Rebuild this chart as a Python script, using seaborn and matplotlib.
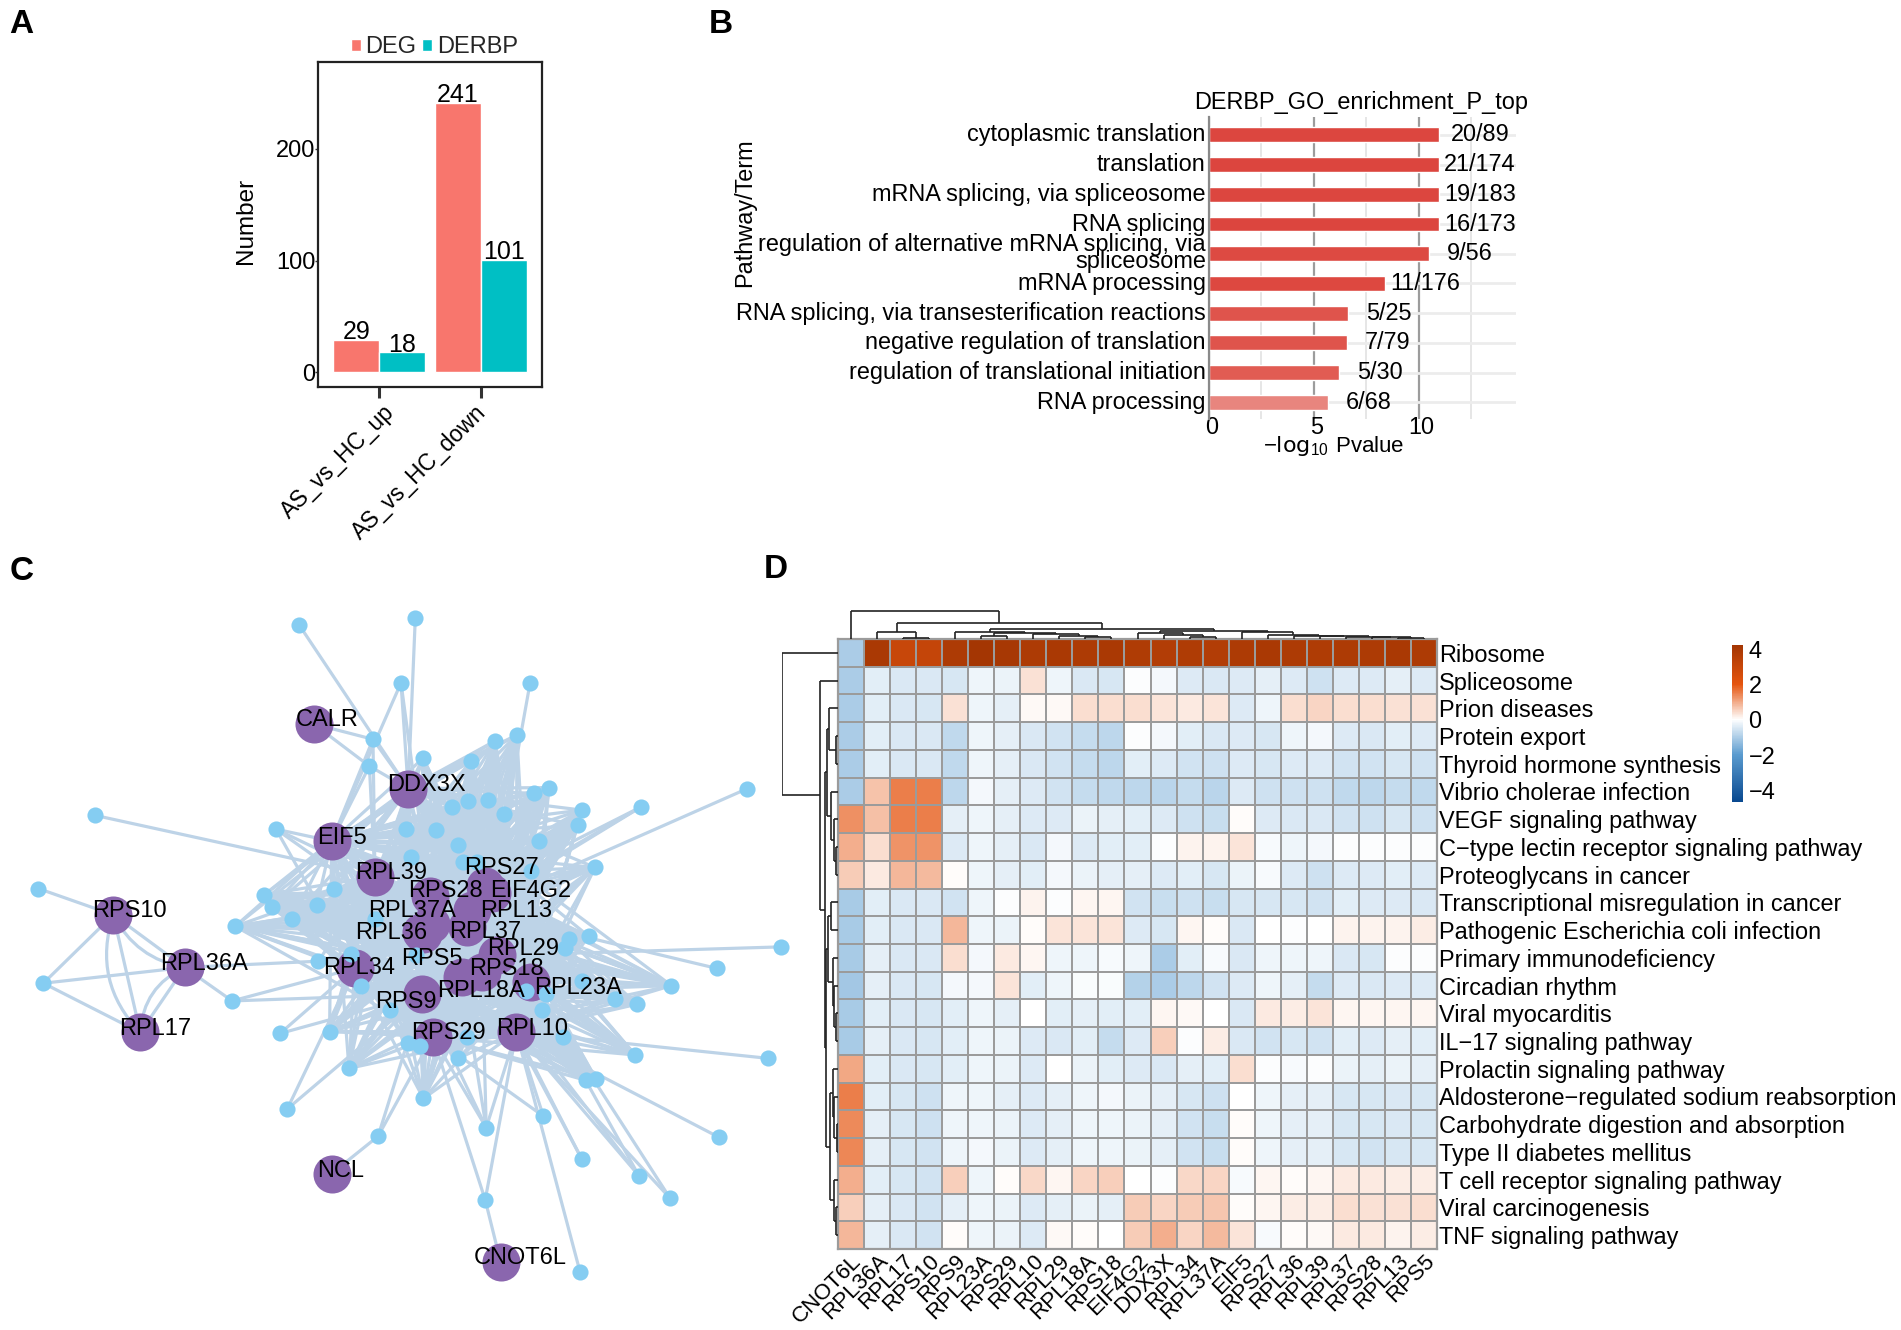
import numpy as np
import pandas as pd
import matplotlib
matplotlib.use("Agg")
import matplotlib.pyplot as plt
import seaborn as sns
from matplotlib.collections import LineCollection
from matplotlib.colors import LinearSegmentedColormap
from matplotlib.patches import FancyArrowPatch
from matplotlib.transforms import ScaledTranslation

# panel A
groups = ["AS_vs_HC_up", "AS_vs_HC_down"]
deg_counts = [29, 241]
derbp_counts = [18, 101]

# panel B
go_terms = ["cytoplasmic translation", "translation", "mRNA splicing, via spliceosome", "RNA splicing",
            "regulation of alternative mRNA splicing, via\nspliceosome", "mRNA processing",
            "RNA splicing, via transesterification reactions", "negative regulation of translation",
            "regulation of translational initiation", "RNA processing"]
go_logp = [10.99, 10.99, 10.99, 10.99, 10.49, 8.41, 6.66, 6.58, 6.22, 5.70]
go_counts = ["20/89", "21/174", "19/183", "16/173", "9/56", "11/176", "5/25", "7/79", "5/30", "6/68"]
go_colors = ["#dc463f", "#dc453e", "#dc463f", "#dc453e", "#dd4a42", "#dd4840", "#df544c", "#df544c", "#e15c53", "#e8857e"]

# panel C, layout positions
hub_names = ["CALR", "DDX3X", "EIF5", "RPL39", "RPS28", "EIF4G2", "RPS27", "RPL37A", "RPL13", "RPL36", "RPL37",
             "RPS5", "RPL29", "RPS18", "RPL18A", "RPL23A", "RPL34", "RPS9", "RPS29", "RPL10", "RPS10", "RPL36A",
             "RPL17", "NCL", "CNOT6L"]
hub_x = [615, 800, 650, 735, 842, 965, 950, 845, 925, 825, 915, 830, 975, 945, 905, 1040, 695, 828, 848, 1012, 222, 362, 275, 650, 981]
hub_y = [301, 436, 546, 620, 660, 655, 640, 720, 690, 735, 725, 740, 785, 820, 830, 840, 812, 866, 955, 945, 700, 810, 946, 1241, 1425]
label_x = [641, 835, 670, 766, 874, 1040, 982, 808, 1012, 767, 950, 847, 1025, 992, 942, 1133, 704, 795, 878, 1043, 254, 400, 305, 668, 1020]
label_y = [293, 428, 540, 613, 651, 650, 603, 692, 692, 738, 736, 792, 771, 813, 860, 852, 811, 882, 947, 938, 692, 803, 938, 1236, 1418]
core_hubs = ["DDX3X", "EIF5", "RPL39", "RPS28", "EIF4G2", "RPS27", "RPL37A", "RPL13", "RPL36", "RPL37", "RPS5",
             "RPL29", "RPS18", "RPL18A", "RPL23A", "RPL34", "RPS9", "RPS29", "RPL10"]

core_x = [1013, 971, 829, 924, 1076, 1047, 885, 917, 957, 987, 1140, 1132, 796, 854, 898, 1056, 805, 908, 935, 1040,
          1166, 655, 518, 533, 621, 573, 461, 735, 1115, 1108, 1154, 815, 688, 707, 1141, 1030, 1070, 1316, 1206,
          1248, 1062, 765, 646, 915, 800, 824, 1103, 898, 684, 1245, 1148, 1168, 830]
core_y = [324, 336, 373, 378, 434, 446, 474, 462, 460, 490, 481, 513, 520, 523, 555, 546, 580, 590, 590, 608,
          601, 647, 658, 684, 679, 708, 724, 708, 750, 770, 745, 785, 782, 849, 838, 860, 865, 848, 875,
          887, 900, 900, 944, 955, 968, 975, 955, 1000, 1021, 993, 1046, 1043, 1084]

leaf_x = [587, 814, 786, 1039, 731, 724, 1465, 1257, 186, 541, 1531, 1405, 75, 85, 455, 549, 1505, 563, 1065, 953,
          741, 1409, 1140, 1252, 951, 1313, 1137, 624]
leaf_y = [95, 79, 215, 215, 333, 389, 436, 474, 492, 521, 767, 812, 645, 843, 880, 948, 1000, 1106, 1121, 1145,
          1163, 1165, 1210, 1245, 1296, 1292, 1447, 797]
leaf_links = ["DDX3X", "DDX3X", "DDX3X EIF5 RPS28", "EIF4G2", "CALR DDX3X RPL39 EIF5", "CALR EIF5 DDX3X RPL39",
              "RPL13", "RPL13 EIF4G2 RPS27", "RPL39", "EIF5 RPL34 RPL39 RPL36", "RPL29", "RPL13", "RPS10",
              "RPS10 RPL36A RPL17", "RPL36A RPL34 RPS9", "RPL34 RPS9", "RPL10", "RPL34 RPS9", "RPL10 RPS29",
              "RPS29 RPS9 RPL10 RPL18A RPS18", "NCL RPS29 RPS9", "RPL10", "RPL10 RPS18", "RPL10 RPL23A RPS18",
              "CNOT6L RPS29 RPL10", "RPL10 RPL23A", "RPL10", "RPL36A RPL34 RPL36 RPL39 RPL37"]
hub_edges = [("RPS10", "RPL36A", 0.0), ("RPS10", "RPL36A", 0.25), ("RPS10", "RPL17", 0.0), ("RPS10", "RPL17", 0.3),
             ("RPL36A", "RPL17", 0.0), ("RPL36A", "RPL17", 0.3)]

# panel D
pathways = ["Ribosome", "Spliceosome", "Prion diseases", "Protein export", "Thyroid hormone synthesis",
            "Vibrio cholerae infection", "VEGF signaling pathway", "C\u2212type lectin receptor signaling pathway",
            "Proteoglycans in cancer", "Transcriptional misregulation in cancer",
            "Pathogenic Escherichia coli infection", "Primary immunodeficiency", "Circadian rhythm",
            "Viral myocarditis", "IL\u221217 signaling pathway", "Prolactin signaling pathway",
            "Aldosterone\u2212regulated sodium reabsorption", "Carbohydrate digestion and absorption",
            "Type II diabetes mellitus", "T cell receptor signaling pathway", "Viral carcinogenesis",
            "TNF signaling pathway"]
rbp_names = ["CNOT6L", "RPL36A", "RPL17", "RPS10", "RPS9", "RPL23A", "RPS29", "RPL10", "RPL29", "RPL18A", "RPS18",
             "EIF4G2", "DDX3X", "RPL34", "RPL37A", "EIF5", "RPS27", "RPL36", "RPL39", "RPL37", "RPS28", "RPL13", "RPS5"]
expr = [
    [-1.0, 4.0, 3.0, 3.1, 3.9, 4.2, 4.1, 3.9, 4.0, 3.9, 4.0, 3.8, 3.7, 3.8, 3.7, 3.9, 4.0, 3.9, 3.8, 3.9, 3.9, 4.0, 3.9],
    [-1.0, -0.35, -0.45, -0.45, -0.5, -0.2, -0.25, 0.35, -0.2, -0.45, -0.5, -0.05, -0.15, -0.4, -0.45, -0.4, -0.3, -0.4, -0.6, -0.4, -0.4, -0.3, -0.4],
    [-1.0, -0.35, -0.45, -0.5, 0.35, -0.2, -0.3, 0.08, 0.08, 0.4, 0.4, 0.4, 0.3, 0.25, 0.3, -0.4, -0.2, 0.4, 0.5, 0.4, 0.4, 0.35, 0.35],
    [-1.0, -0.35, -0.45, -0.45, -0.75, -0.2, -0.3, -0.45, -0.55, -0.7, -0.8, -0.05, -0.15, -0.35, -0.45, -0.4, -0.5, -0.2, -0.15, -0.4, -0.45, -0.35, -0.4],
    [-1.0, -0.35, -0.45, -0.45, -0.75, -0.2, -0.3, -0.45, -0.55, -0.7, -0.8, -0.35, -0.4, -0.55, -0.6, -0.4, -0.5, -0.4, -0.4, -0.55, -0.55, -0.5, -0.55],
    [-1.0, 0.7, 1.5, 1.5, -0.8, -0.15, -0.3, -0.4, -0.55, -0.7, -0.75, -0.8, -0.85, -0.7, -0.85, -0.4, -0.6, -0.6, -0.6, -0.75, -0.8, -0.7, -0.75],
    [1.3, 0.75, 1.5, 1.5, -0.3, -0.2, -0.3, -0.4, -0.4, -0.25, -0.3, -0.35, -0.4, -0.6, -0.65, 0.02, -0.4, -0.45, -0.45, -0.55, -0.6, -0.5, -0.6],
    [0.95, 0.4, 1.25, 1.25, -0.4, -0.2, -0.3, -0.45, -0.15, -0.4, -0.35, -0.35, -0.05, 0.15, 0.15, 0.3, -0.1, -0.2, -0.15, -0.03, -0.03, -0.05, -0.03],
    [0.6, 0.25, 0.85, 0.8, 0.02, -0.2, -0.3, -0.35, -0.15, -0.25, -0.3, -0.3, -0.4, -0.35, -0.5, -0.25, -0.1, -0.4, -0.6, -0.4, -0.4, -0.35, -0.4],
    [-1.05, -0.35, -0.45, -0.45, -0.55, -0.2, -0.05, 0.15, -0.05, 0.1, 0.12, -0.55, -0.65, -0.6, -0.65, -0.5, -0.5, -0.5, -0.55, -0.35, -0.4, -0.4, -0.45],
    [-1.05, -0.35, -0.45, -0.45, 0.85, -0.2, -0.25, 0.03, 0.3, 0.3, 0.3, -0.4, -0.5, 0.12, 0.03, -0.45, 0.0, -0.03, 0.0, 0.15, 0.15, 0.15, 0.2],
    [-1.05, -0.3, -0.45, -0.45, 0.4, -0.15, 0.25, 0.1, -0.2, -0.2, -0.1, -0.2, -1.0, -0.35, -0.1, -0.45, -0.2, -0.2, -0.2, -0.45, -0.5, -0.03, -0.03],
    [-1.1, -0.3, -0.45, -0.5, -0.15, -0.15, 0.3, -0.35, -0.2, -0.08, -0.08, -0.9, -1.0, -0.8, -0.55, -0.4, -0.2, -0.3, -0.7, -0.4, -0.45, -0.4, -0.4],
    [-1.05, -0.35, -0.45, -0.5, -0.35, -0.2, -0.3, 0.0, -0.35, -0.3, -0.35, -0.35, 0.12, 0.08, 0.0, -0.45, 0.25, 0.2, 0.3, 0.1, 0.12, 0.1, 0.1],
    [-1.05, -0.3, -0.45, -0.5, -0.35, -0.2, -0.25, -0.4, -0.45, -0.35, -0.7, -0.4, 0.55, -0.05, 0.2, -0.45, -0.55, -0.5, -0.55, -0.35, -0.4, -0.3, -0.35],
    [1.0, -0.35, -0.45, -0.5, -0.35, -0.2, -0.25, -0.4, 0.0, -0.25, -0.35, -0.4, -0.45, -0.3, -0.35, 0.4, -0.02, -0.1, -0.05, -0.25, -0.3, -0.25, -0.3],
    [1.5, -0.35, -0.5, -0.6, -0.2, -0.2, -0.3, -0.4, -0.3, -0.2, -0.15, -0.25, -0.3, -0.5, -0.6, 0.0, -0.2, -0.3, -0.3, -0.5, -0.5, -0.45, -0.5],
    [1.35, -0.3, -0.5, -0.6, -0.2, -0.2, -0.25, -0.4, -0.3, -0.2, -0.2, -0.25, -0.3, -0.55, -0.65, 0.02, -0.2, -0.3, -0.3, -0.5, -0.5, -0.45, -0.5],
    [1.4, -0.3, -0.5, -0.55, -0.2, -0.15, -0.25, -0.4, -0.3, -0.2, -0.2, -0.25, -0.3, -0.55, -0.65, 0.02, -0.2, -0.3, -0.3, -0.5, -0.55, -0.5, -0.5],
    [0.95, -0.35, -0.5, -0.55, 0.55, -0.2, 0.02, 0.45, 0.1, 0.5, 0.55, 0.0, -0.05, 0.45, 0.5, -0.1, 0.1, 0.03, 0.12, 0.25, 0.25, 0.2, 0.2],
    [0.55, -0.3, -0.45, -0.55, -0.3, -0.2, -0.25, -0.4, -0.3, -0.25, -0.3, 0.6, 0.5, 0.6, 0.65, 0.03, 0.12, 0.2, 0.2, 0.4, 0.35, 0.35, 0.4],
    [0.85, -0.3, -0.45, -0.55, 0.02, -0.2, -0.25, -0.4, 0.08, 0.02, 0.0, 0.6, 0.95, 0.5, 0.8, 0.3, -0.1, 0.02, 0.08, 0.25, 0.25, 0.15, 0.2],
]

# dendrograms as nested (left, right, height), leaves are the cell index
col_tree = (0, ((1, (2, 3, 2), 22),
                ((4, ((5, 6, 8), (7, (8, (9, 10, 5), 10), 14), 18), 22),
                 ((11, (12, (13, 14, 5), 13), 17),
                  (15, (16, (17, (18, (19, (20, (21, 22, 4), 5), 6), 8), 10), 13), 22), 24), 30), 48), 84)
row_tree = (0, (1, (((2, (3, 4, 5), 20), (5, (6, (7, 8, 5), 10), 15), 24),
                    (((9, 10, 15), (11, (12, (13, 14, 5), 8), 12), 22),
                     ((15, (16, (17, 18, 3), 8), 12), (19, (20, 21, 5), 8), 18), 27), 30), 40), 125)

WIDTH, HEIGHT = 1901, 1330
TEXT_SIZE = 16.9

sns.set_theme(style="white")
plt.rcParams["font.family"] = ["Liberation Sans", "DejaVu Sans"]
plt.rcParams["mathtext.default"] = "regular"

fig = plt.figure(figsize=(WIDTH / 100, HEIGHT / 100), dpi=100)


def px_axes(left, top, right, bottom):
    # axes placed by the pixel box it has in the finished picture
    return fig.add_axes([left / WIDTH, 1 - bottom / HEIGHT, (right - left) / WIDTH, (bottom - top) / HEIGHT])


def px_text(x, y, s, **kw):
    return fig.text(x / WIDTH, 1 - y / HEIGHT, s, **kw)


def nudge(labels, dx, dy):
    # move tick labels by some pixels, y up
    off = ScaledTranslation(dx / 100, dy / 100, fig.dpi_scale_trans)
    for lab in labels:
        lab.set_transform(lab.get_transform() + off)


for letter, lx, ly in [("A", 9, 33), ("B", 709, 33), ("C", 10, 580), ("D", 764, 578)]:
    px_text(lx, ly, letter, fontsize=24, fontweight="bold", color="black", ha="left", va="baseline")

# A: bar chart
ax_a = px_axes(318, 62, 542, 387)
bars_df = pd.DataFrame({
    "group": groups * 2,
    "count": deg_counts + derbp_counts,
    "type": ["DEG"] * 2 + ["DERBP"] * 2,
})
sns.barplot(data=bars_df, x="group", y="count", hue="type", palette=["#F8766D", "#00BFC4"],
            width=0.9, saturation=1, gap=0, ax=ax_a)
for cont in ax_a.containers:
    ax_a.bar_label(cont, fontsize=18, padding=-3, color="black")
ax_a.set_xlim(-0.6, 1.6)
ax_a.set_ylim(-13, 277.7)
ax_a.set_yticks([0, 100, 200])
ax_a.set_xlabel("")
ax_a.set_ylabel("")
px_text(246, 221, "Number", fontsize=17.5, color="black", ha="center", va="center", rotation=90)
ax_a.tick_params(axis="y", length=2, width=1, pad=0, labelsize=17, left=True, labelcolor="black", color="#333333")
ax_a.tick_params(axis="x", length=8, width=2.2, labelsize=16.5, bottom=True, labelcolor="black", color="#333333")
for lab in ax_a.get_xticklabels():
    lab.set(rotation=45, ha="right", va="top", rotation_mode="anchor")
nudge(ax_a.get_xticklabels()[:1], 4, 2)
nudge(ax_a.get_xticklabels()[1:], -6, 2)
for sp in ax_a.spines.values():
    sp.set(visible=True, color="#222222", linewidth=1.6)
handles, labels = ax_a.get_legend_handles_labels()
ax_a.legend(handles, labels, ncol=2, frameon=False, fontsize=17, loc="lower center",
            bbox_to_anchor=(0.52, 1.012), handlelength=0.42, handleheight=0.42, handletextpad=0.2,
            columnspacing=0.25, borderpad=0, borderaxespad=0)

# B: enrichment bars
ax_b = px_axes(1208.6, 117, 1515.7, 419)
terms_df = pd.DataFrame({"term": go_terms, "logp": go_logp})
ax_b.set_axisbelow(True)
sns.barplot(data=terms_df, y="term", x="logp", hue="term", palette=go_colors, legend=False,
            width=0.5, saturation=1, ax=ax_b)
ax_b.set_xlim(0, 14.62)
ax_b.set_ylim(9.56, -0.6)
ax_b.set_xticks([0, 5, 10])
ax_b.set_xticks([2.5, 7.5, 12.5], minor=True)
ax_b.grid(True, axis="x", which="major", color="#9c9c9c", linewidth=1.6)
ax_b.grid(True, axis="x", which="minor", color="#e4e4e4", linewidth=1.3)
ax_b.grid(True, axis="y", which="major", color="#ececec", linewidth=2)
for i, label in enumerate(go_counts):
    ax_b.text(go_logp[i] + 1.92, i, label, fontsize=TEXT_SIZE, color="black", ha="center", va="center")
for name, sp in ax_b.spines.items():
    sp.set_visible(name == "left")
ax_b.spines["left"].set(color="#8a8a8a", linewidth=1.6)
ax_b.tick_params(axis="both", which="both", length=0, labelcolor="black")
ax_b.tick_params(axis="y", pad=2, labelsize=TEXT_SIZE)
ax_b.tick_params(axis="x", pad=0, labelsize=TEXT_SIZE)
ax_b.set_xlabel("")
ax_b.set_ylabel("")
for lab in ax_b.get_yticklabels():
    lab.set_linespacing(0.66)
y_labels = ax_b.get_yticklabels()
nudge(y_labels[:4] + y_labels[5:], 0, 2.5)
nudge(y_labels[4:5], 0, 0)
nudge(ax_b.get_xticklabels(), 3, 3)
px_text(1334, 446, r"$-\log_{10}\,$Pvalue", fontsize=16, ha="center", va="center", color="black")
px_text(1361, 103, "DERBP_GO_enrichment_P_top", fontsize=TEXT_SIZE, ha="center", va="center", color="black")
px_text(745, 213, "Pathway/Term", fontsize=TEXT_SIZE, ha="center", va="center", rotation=90, color="black")

# C: network
ax_c = px_axes(0, 580, 800, 1330)
ax_c.set_xlim(0, 1568)
ax_c.set_ylim(1568, 0)
ax_c.axis("off")
hub_pos = {n: (hub_x[i], hub_y[i]) for i, n in enumerate(hub_names)}
segments = []
for x, y in zip(core_x, core_y):
    segments += [[(x, y), hub_pos[h]] for h in core_hubs]
for x, y, links in zip(leaf_x, leaf_y, leaf_links):
    segments += [[(x, y), hub_pos[h]] for h in links.split()]
ax_c.add_collection(LineCollection(segments, colors="#bdd3e7", linewidths=2.3, zorder=1))
for a, b, rad in hub_edges:
    ax_c.add_patch(FancyArrowPatch(hub_pos[a], hub_pos[b], arrowstyle="-", color="#bdd3e7", linewidth=2.3,
                                   connectionstyle=f"arc3,rad={rad}", shrinkA=0, shrinkB=0, zorder=1))
sns.scatterplot(x=hub_x, y=hub_y, s=750, color="#8a66ae", linewidth=0, ax=ax_c, zorder=2)
sns.scatterplot(x=core_x + leaf_x, y=core_y + leaf_y, s=135, color="#85cdf2", linewidth=0, ax=ax_c, zorder=3)
ax_c.set_xlim(0, 1568)
ax_c.set_ylim(1568, 0)
for i, name in enumerate(hub_names):
    ax_c.text(label_x[i], label_y[i], name, fontsize=17, color="black", ha="center", va="center", zorder=4)

# D: heatmap with dendrograms
expr_df = pd.DataFrame(expr, index=pathways, columns=rbp_names)
ramp_lo, ramp_hi = -4.7, 4.25
ramp = [(-4.7, "#08488f"), (-2, "#5a9bcf"), (0, "#ffffff"), (2, "#e5550f"), (4.25, "#a33603")]
heat_cmap = LinearSegmentedColormap.from_list(
    "blue_orange", [((v - ramp_lo) / (ramp_hi - ramp_lo), c) for v, c in ramp])
ax_d = px_axes(838, 639, 1437, 1249)
ax_cb = px_axes(1732, 644.5, 1743, 802.4)
sns.heatmap(expr_df, cmap=heat_cmap, vmin=ramp_lo, vmax=ramp_hi, linewidths=1.3, linecolor="#9b9b9b",
            ax=ax_d, cbar_ax=ax_cb, cbar_kws={"ticks": [-4, -2, 0, 2, 4]})
for sp in ax_d.spines.values():
    sp.set(visible=True, color="#9b9b9b", linewidth=1.6)
ax_d.yaxis.tick_right()
ax_d.tick_params(axis="both", length=0, labelcolor="black")
ax_d.tick_params(axis="y", pad=1.5, labelsize=TEXT_SIZE, labelrotation=0)
ax_d.tick_params(axis="x", pad=1, labelsize=16)
for lab in ax_d.get_xticklabels():
    lab.set(rotation=45, ha="right", va="top", rotation_mode="anchor")
ax_cb.tick_params(length=0, pad=4, labelsize=TEXT_SIZE, labelcolor="black")


def tree_segments(node, segs):
    # walk a nested merge, returns leaf centre and height of this node
    if isinstance(node, int):
        return node + 0.5, 0
    pos_l, h_l = tree_segments(node[0], segs)
    pos_r, h_r = tree_segments(node[1], segs)
    h = node[2]
    segs += [[(pos_l, h_l), (pos_l, h)], [(pos_l, h), (pos_r, h)], [(pos_r, h), (pos_r, h_r)]]
    return (pos_l + pos_r) / 2, h


ax_top = px_axes(838, 610, 1437, 639)
segs = []
tree_segments(col_tree, segs)
ax_top.add_collection(LineCollection(segs, colors="#222222", linewidths=1.2))
ax_top.set_xlim(0, len(rbp_names))
ax_top.set_ylim(0, 87)
ax_top.axis("off")

ax_left = px_axes(782, 639, 838, 1249)
segs = []
tree_segments(row_tree, segs)
ax_left.add_collection(LineCollection([[(p[1], p[0]) for p in s] for s in segs], colors="#222222", linewidths=1.2))
ax_left.set_xlim(125, 0)
ax_left.set_ylim(len(pathways), 0)
ax_left.axis("off")

fig.savefig("out.png", dpi=100, facecolor="white")
